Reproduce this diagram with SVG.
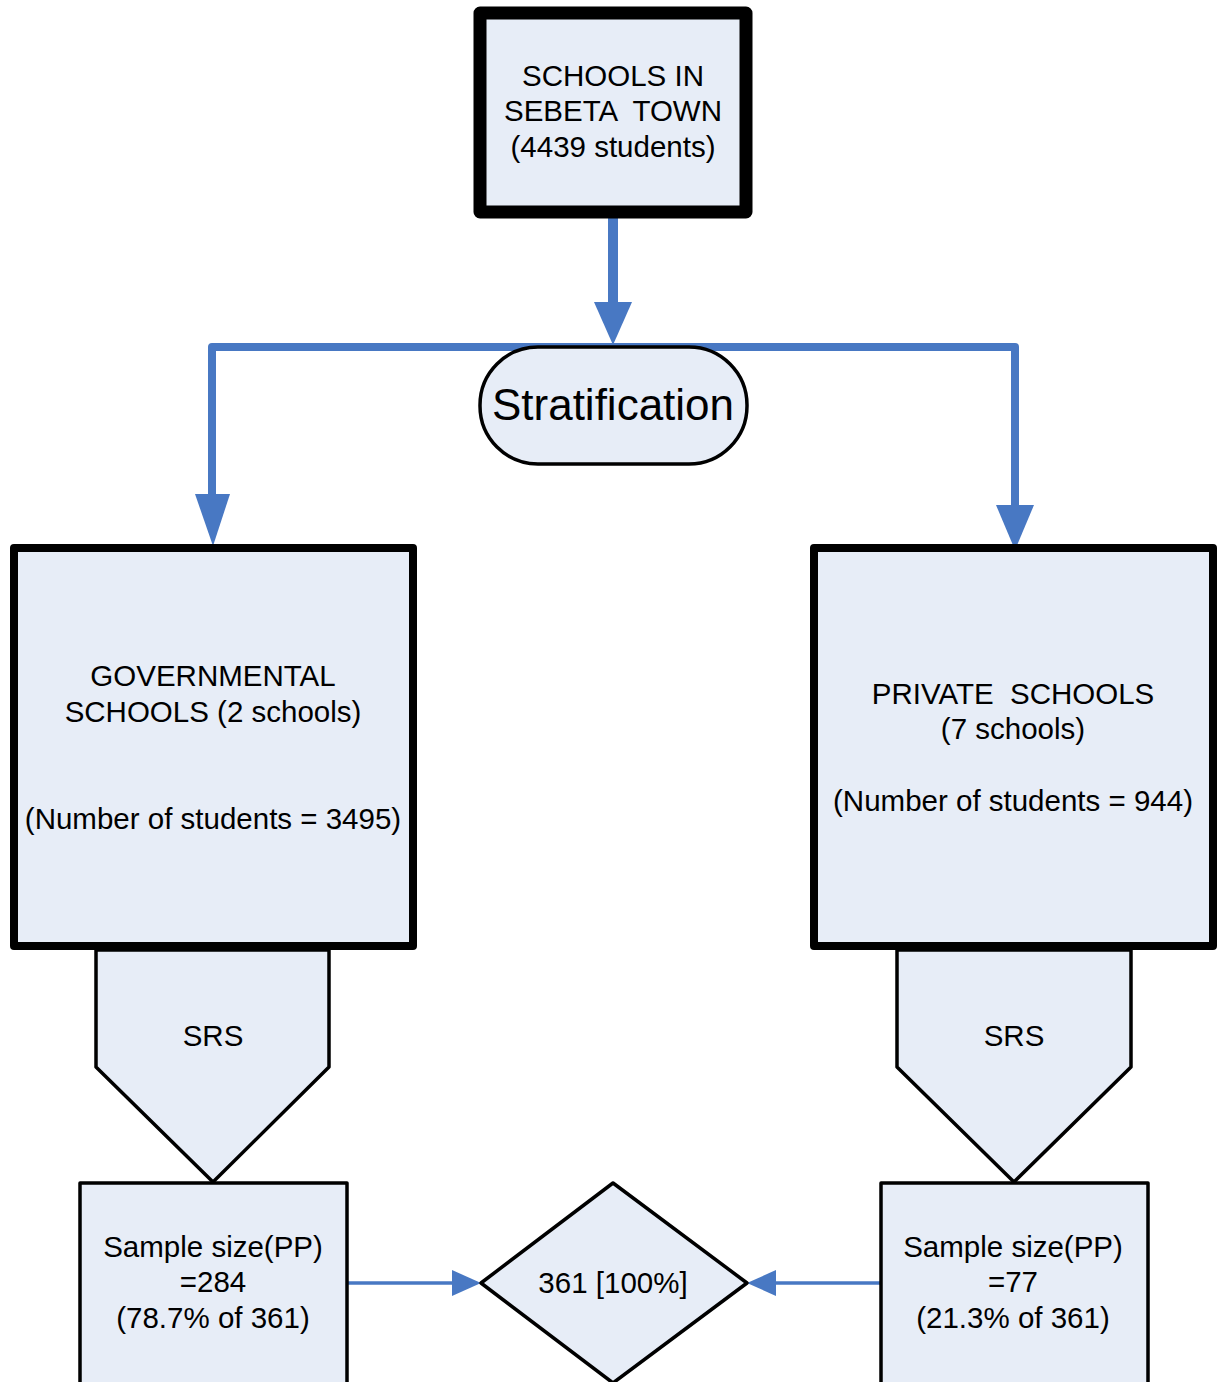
<svg xmlns="http://www.w3.org/2000/svg" width="1221" height="1382" viewBox="0 0 1221 1382">
<style>
.box{fill:#E7EDF7;stroke:#000;stroke-linejoin:round}
.thick{stroke-width:8}
.thin{stroke-width:3.5}
.t{font-family:"Liberation Sans",Arial,sans-serif;font-size:29.5px;fill:#000;text-anchor:middle}
.conn{stroke:#4878C3;fill:none}
.head{fill:#4878C3}
</style>
<rect width="1221" height="1382" fill="#fff"/>
<g id="connectors">
<line class="conn" x1="613" y1="213" x2="613" y2="308" stroke-width="10" stroke-linecap="round"/>
<polygon class="head" points="594,302 632,302 613,345"/>
<polyline class="conn" points="212,505 212,347 1015,347 1015,510" stroke-width="8" stroke-linejoin="round"/>
<polygon class="head" points="195,494 230,494 213,546"/>
<polygon class="head" points="996,505 1034,505 1015,550"/>
<line class="conn" x1="347" y1="1283" x2="452" y2="1283" stroke-width="3.5"/>
<polygon class="head" points="452,1270 481,1283 452,1296"/>
<line class="conn" x1="880" y1="1283" x2="776" y2="1283" stroke-width="3.5"/>
<polygon class="head" points="776,1270 747,1283 776,1296"/>
</g>
<g id="schools">
<rect class="box" x="480" y="13" width="266" height="199" stroke-width="13"/>
<text class="t" x="613" y="86">SCHOOLS IN</text>
<text class="t" x="613" y="121" xml:space="preserve">SEBETA  TOWN</text>
<text class="t" x="613" y="157">(4439 students)</text>
</g>
<g id="stratification">
<rect class="box" x="480" y="347" width="267" height="117" rx="58" ry="58" stroke-width="3.5"/>
<text x="613" y="420" style="font-family:'Liberation Sans',Arial,sans-serif;font-size:44px;text-anchor:middle">Stratification</text>
</g>
<g id="governmental">
<rect class="box thick" x="14" y="548" width="399" height="398"/>
<text class="t" x="213" y="686">GOVERNMENTAL</text>
<text class="t" x="213" y="722">SCHOOLS (2 schools)</text>
<text class="t" x="213" y="829">(Number of students = 3495)</text>
</g>
<g id="private">
<rect class="box thick" x="814" y="548" width="399" height="398"/>
<text class="t" x="1013" y="704" xml:space="preserve">PRIVATE  SCHOOLS</text>
<text class="t" x="1013" y="739">(7 schools)</text>
<text class="t" x="1013" y="811">(Number of students = 944)</text>
</g>
<g id="srs-left">
<polygon class="box thin" points="96,950 329,950 329,1067 213,1182 96,1067"/>
<text class="t" x="213" y="1046">SRS</text>
</g>
<g id="srs-right">
<polygon class="box thin" points="897,950 1131,950 1131,1067 1014,1182 897,1067"/>
<text class="t" x="1014" y="1046">SRS</text>
</g>
<g id="sample-left">
<rect class="box thin" x="80" y="1183" width="267" height="215"/>
<text class="t" x="213" y="1257">Sample size(PP)</text>
<text class="t" x="213" y="1292">=284</text>
<text class="t" x="213" y="1328">(78.7% of 361)</text>
</g>
<g id="sample-right">
<rect class="box thin" x="881" y="1183" width="267" height="215"/>
<text class="t" x="1013" y="1257">Sample size(PP)</text>
<text class="t" x="1013" y="1292">=77</text>
<text class="t" x="1013" y="1328">(21.3% of 361)</text>
</g>
<g id="total">
<polygon class="box thin" points="613,1183 747,1283 613,1383 481,1283"/>
<text class="t" x="613" y="1293">361 [100%]</text>
</g>
</svg>
